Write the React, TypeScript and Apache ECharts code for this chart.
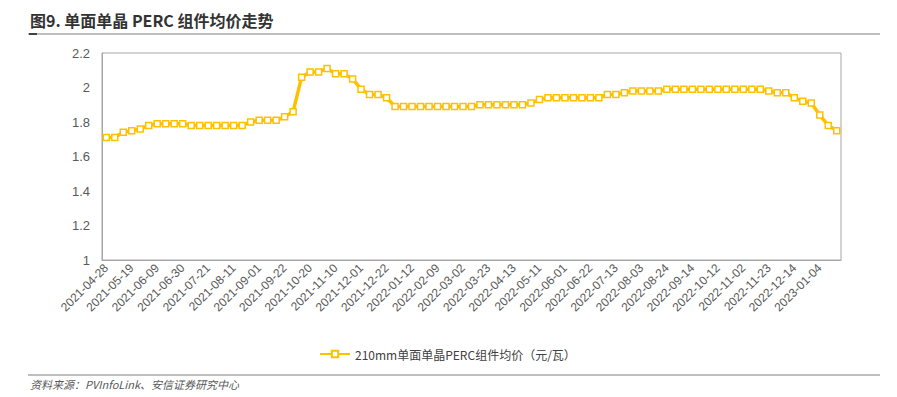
import React, { useEffect, useRef } from "react";
import * as echarts from "echarts";

const dates = [
  "2021-04-28","2021-05-05","2021-05-12","2021-05-19","2021-05-26","2021-06-02","2021-06-09","2021-06-16","2021-06-23","2021-06-30",
  "2021-07-07","2021-07-14","2021-07-21","2021-07-28","2021-08-04","2021-08-11","2021-08-18","2021-08-25","2021-09-01","2021-09-08",
  "2021-09-15","2021-09-22","2021-09-29","2021-10-13","2021-10-20","2021-10-27","2021-11-03","2021-11-10","2021-11-17","2021-11-24",
  "2021-12-01","2021-12-08","2021-12-15","2021-12-22","2021-12-29","2022-01-05","2022-01-12","2022-01-19","2022-01-26","2022-02-09",
  "2022-02-16","2022-02-23","2022-03-02","2022-03-09","2022-03-16","2022-03-23","2022-03-30","2022-04-06","2022-04-13","2022-04-20",
  "2022-04-27","2022-05-11","2022-05-18","2022-05-25","2022-06-01","2022-06-08","2022-06-15","2022-06-22","2022-06-29","2022-07-06",
  "2022-07-13","2022-07-20","2022-07-27","2022-08-03","2022-08-10","2022-08-17","2022-08-24","2022-08-31","2022-09-07","2022-09-14",
  "2022-09-21","2022-09-28","2022-10-12","2022-10-19","2022-10-26","2022-11-02","2022-11-09","2022-11-16","2022-11-23","2022-11-30",
  "2022-12-07","2022-12-14","2022-12-21","2022-12-28","2023-01-04","2023-01-11","2023-01-18",
];

const prices = [
  1.71,1.71,1.74,1.75,1.76,1.78,1.79,1.79,1.79,1.79,
  1.78,1.78,1.78,1.78,1.78,1.78,1.78,1.80,1.81,1.81,
  1.81,1.83,1.86,2.06,2.09,2.09,2.11,2.08,2.08,2.05,
  1.99,1.96,1.96,1.94,1.89,1.89,1.89,1.89,1.89,1.89,
  1.89,1.89,1.89,1.89,1.90,1.90,1.90,1.90,1.90,1.90,
  1.91,1.93,1.94,1.94,1.94,1.94,1.94,1.94,1.94,1.96,
  1.96,1.97,1.98,1.98,1.98,1.98,1.99,1.99,1.99,1.99,
  1.99,1.99,1.99,1.99,1.99,1.99,1.99,1.99,1.98,1.97,
  1.97,1.94,1.92,1.91,1.84,1.78,1.75,
];

const seriesName = "210mm单面单晶PERC组件均价（元/瓦）";
const titleText = "图9. 单面单晶 PERC 组件均价走势";
const sourceText = "资料来源：PVInfoLink、安信证券研究中心";

export default function App() {
  const ref = useRef<HTMLDivElement>(null);
  useEffect(() => {
    if (!ref.current) return;
    const chart = echarts.init(ref.current, null, { renderer: "svg" });
    const cjk = '"Noto Sans CJK SC", "Noto Sans", sans-serif';
    chart.setOption({
      animation: false,
      backgroundColor: "#ffffff",
      grid: {
        left: 102,
        right: 56,
        top: 53,
        bottom: 137,
        show: true,
        borderColor: "#a6a6a6",
        borderWidth: 1,
        containLabel: false,
      },
      legend: {
        data: [seriesName],
        left: 314,
        top: 343,
        itemWidth: 30,
        itemHeight: 8,
        itemGap: 4,
        textStyle: { fontFamily: cjk, fontSize: 12, color: "#404040" },
      },
      xAxis: {
        type: "category",
        data: dates,
        boundaryGap: true,
        axisLine: { show: true, lineStyle: { color: "#a6a6a6" } },
        axisTick: { show: false },
        axisLabel: {
          interval: 2,
          rotate: 45,
          fontSize: 12,
          color: "#595959",
          fontFamily: "Liberation Sans, Arial, sans-serif",
          margin: 6,
        },
        splitLine: { show: false },
      },
      yAxis: {
        type: "value",
        min: 1,
        max: 2.2,
        interval: 0.2,
        axisLine: { show: true, lineStyle: { color: "#a6a6a6" } },
        axisTick: { show: false },
        splitLine: { show: false },
        axisLabel: {
          fontSize: 13,
          color: "#595959",
          fontFamily: "Liberation Sans, Arial, sans-serif",
          margin: 12,
          formatter: (v: number) => String(parseFloat(v.toFixed(1))),
        },
      },
      series: [
        {
          name: seriesName,
          type: "line",
          data: prices,
          symbol: "rect",
          symbolSize: 6,
          showAllSymbol: true,
          lineStyle: { color: "#FFC000", width: 3.5 },
          itemStyle: { color: "#ffffff", borderColor: "#FFC000", borderWidth: 1.5 },
        },
      ],
      graphic: [
        {
          type: "text",
          left: 30,
          top: 12,
          style: {
            text: titleText,
            font: `bold 16px ${cjk}`,
            fill: "#333333",
          },
        },
        {
          type: "line",
          shape: { x1: 28, y1: 34, x2: 880, y2: 34 },
          style: { stroke: "#7f7f7f", lineWidth: 1 },
        },
        {
          type: "rect",
          shape: { x: 29, y: 33, width: 8, height: 2 },
          style: { fill: "#404040" },
        },
        {
          type: "line",
          shape: { x1: 28, y1: 375, x2: 880, y2: 375 },
          style: { stroke: "#7f7f7f", lineWidth: 1 },
        },
        {
          type: "text",
          left: 30,
          top: 378,
          style: {
            text: sourceText,
            font: `italic 11px ${cjk}`,
            fill: "#595959",
          },
        },
      ],
    });
    return () => chart.dispose();
  }, []);
  return (
    <div
      ref={ref}
      style={{ position: "fixed", left: 0, top: 0, width: 897, height: 397 }}
    />
  );
}
